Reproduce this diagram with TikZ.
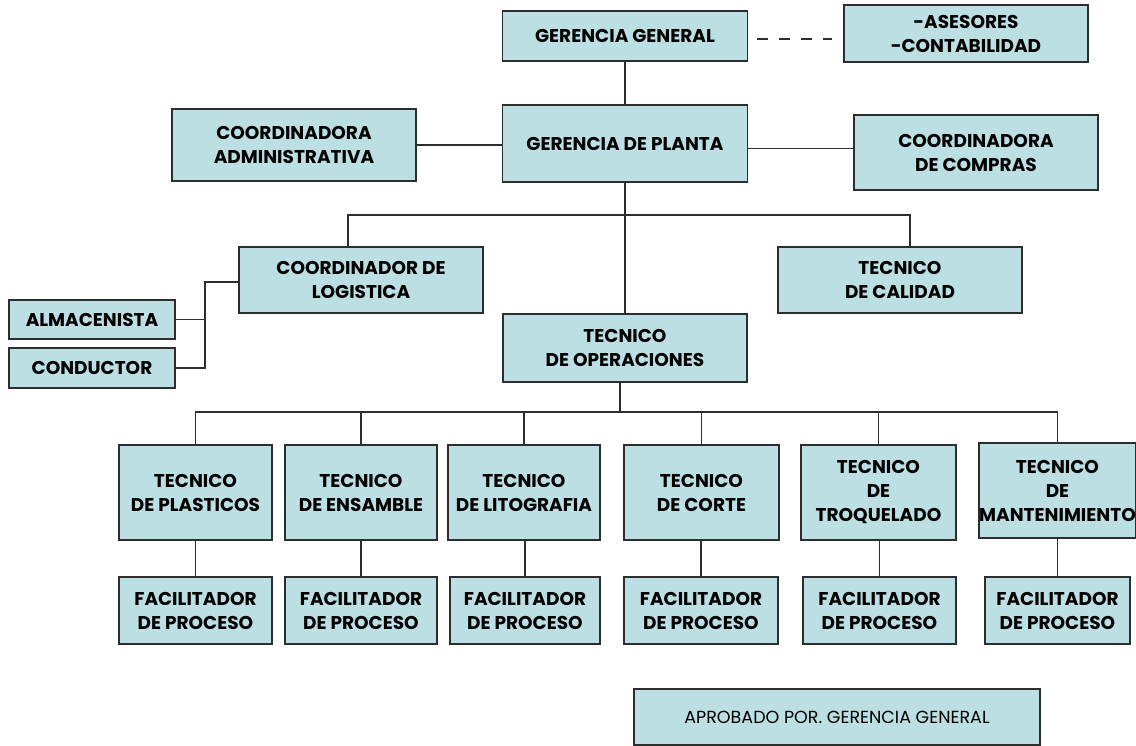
\documentclass[tikz,border=0pt]{standalone}
\usepackage{fontspec}
\setmainfont{Poppins}
\definecolor{boxfill}{RGB}{187,223,227}
\definecolor{linegray}{RGB}{45,45,45}
\begin{document}
\begin{tikzpicture}[x=1pt,y=-1pt,
  every node/.style={font=\fontsize{18.5}{24}\selectfont\bfseries},
  box/.style={draw=linegray,fill=boxfill,line width=1.5pt,align=center,inner sep=0pt},
  link/.style={draw=linegray,line width=1.8pt}]
  \useasboundingbox (0,0) rectangle (1136,745);
  % direccion
  \node[box,minimum width=245,minimum height=50] (gg) at (625,36) {GERENCIA GENERAL};
  \node[box,minimum width=244,minimum height=57] (ases) at (966,33.5) {-ASESORES\\-CONTABILIDAD};
  \node[box,minimum width=245,minimum height=77] (gp) at (625,143.5) {GERENCIA DE PLANTA};
  \node[box,minimum width=244,minimum height=72] (adm) at (294,145) {COORDINADORA\\ADMINISTRATIVA};
  \node[box,minimum width=244,minimum height=75] (comp) at (976,152.5) {COORDINADORA\\DE COMPRAS};
  \node[box,minimum width=244,minimum height=66] (log) at (361,280) {COORDINADOR DE\\LOGISTICA};
  \node[box,minimum width=244,minimum height=66] (cal) at (900,280) {TECNICO\\DE CALIDAD};
  \node[box,minimum width=166,minimum height=39] (alm) at (92,319.5) {ALMACENISTA};
  \node[box,minimum width=166,minimum height=40] (cond) at (92,368) {CONDUCTOR};
  \node[box,minimum width=244,minimum height=68] (op) at (625,348) {TECNICO\\DE OPERACIONES};
  % tecnicos
  \node[box,minimum width=153,minimum height=95] (pla) at (195.5,492.5) {TECNICO\\DE PLASTICOS};
  \node[box,minimum width=152,minimum height=95] (ens) at (361,492.5) {TECNICO\\DE ENSAMBLE};
  \node[box,minimum width=152,minimum height=95] (lit) at (524,492.5) {TECNICO\\DE LITOGRAFIA};
  \node[box,minimum width=155,minimum height=95] (cor) at (701.5,492.5) {TECNICO\\DE CORTE};
  \node[box,minimum width=155,minimum height=95] (tro) at (878.5,492.5) {TECNICO\\DE\\TROQUELADO};
  \node[box,minimum width=157,minimum height=95] (man) at (1057.5,490.5) {TECNICO\\DE\\MANTENIMIENTO};
  % facilitadores
  \node[box,minimum width=153,minimum height=67] (f1) at (195.5,610.5) {FACILITADOR\\DE PROCESO};
  \node[box,minimum width=152,minimum height=67] (f2) at (361,610.5) {FACILITADOR\\DE PROCESO};
  \node[box,minimum width=150,minimum height=67] (f3) at (525,610.5) {FACILITADOR\\DE PROCESO};
  \node[box,minimum width=154,minimum height=67] (f4) at (701,610.5) {FACILITADOR\\DE PROCESO};
  \node[box,minimum width=153,minimum height=67] (f5) at (879.5,610.5) {FACILITADOR\\DE PROCESO};
  \node[box,minimum width=145,minimum height=67] (f6) at (1057.5,610.5) {FACILITADOR\\DE PROCESO};
  \node[box,minimum width=406,minimum height=56,font=\fontsize{17.5}{20}\selectfont] (apr) at (837,717) {APROBADO POR. GERENCIA GENERAL};
  % conectores
  \coordinate (bar1) at (625,215);
  \coordinate (lk) at (205,0);
  \coordinate (bar2) at (620,412);
  \draw[link] (gg) -- (gp);
  \draw[link,dash pattern=on 11pt off 11pt,shorten <=9pt,shorten >=11pt] ([yshift=-3pt]gg.east) -- ([yshift=-3pt]gg.east -| ases.west);
  \draw[link] (adm.east) -- (adm.east -| gp.west);
  \draw[link] ([yshift=-5pt]gp.east) -- ([yshift=-5pt]gp.east -| comp.west);
  \draw[link] (gp.south) -- (op.north);
  \draw[link] ([xshift=-13pt]log.north) |- (bar1) -| ([xshift=10pt]cal.north);
  \draw[link] ([yshift=-2pt]log.west) -- ([yshift=-2pt]log.west -| lk) |- (cond.east);
  \draw[link] (alm.east) -- (alm.east -| lk);
  \draw[link] ([xshift=-5pt]op.south) -- (bar2);
  \draw[link] (pla.north) |- (bar2) -| (man.north);
  \foreach \n in {ens,lit,cor,tro}
    \draw[link] (\n.north) -- (\n.north |- bar2);
  \foreach \t/\f in {pla/f1,ens/f2,lit/f3,cor/f4,tro/f5,man/f6}
    \draw[link] (\f.north |- \t.south) -- (\f.north);
\end{tikzpicture}
\end{document}
